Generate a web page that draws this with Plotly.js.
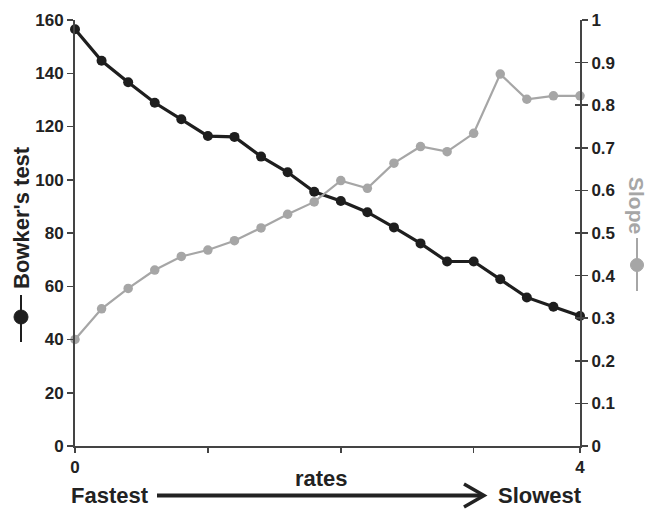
<!DOCTYPE html>
<html><head><meta charset="utf-8">
<script src="https://cdn.plot.ly/plotly-3.0.1.min.js"></script>
<style>html,body{margin:0;padding:0;background:#fff;}</style>
</head><body><div id="chart" style="width:651px;height:510px;"></div>
<script>
// ---- data ----
const pointIndex = [0,1,2,3,4,5,6,7,8,9,10,11,12,13,14,15,16,17,18,19];
const bowkerTest = [156.5,144.7,136.6,128.9,122.7,116.4,116.1,108.7,102.8,95.5,92.0,87.8,82.1,76.1,69.3,69.3,62.6,55.8,52.3,48.8];
const slopeValues = [0.25,0.322,0.37,0.413,0.445,0.46,0.482,0.512,0.544,0.573,0.623,0.605,0.664,0.703,0.691,0.734,0.873,0.814,0.822,0.822];
const xTickVals = [0,5,10,15,19];
const xTickText = ["0","","","","4"];
const leftTitle = "Bowker's test";
const rightTitle = "Slope";
const xTitle = "rates";
const startLabel = "Fastest";
const endLabel = "Slowest";

// ---- style ----
const FONT = "'Liberation Sans Narrow','Arial Narrow','Liberation Sans',Arial,sans-serif";
const BLACK = "#1e1e1e", GRAY = "#a6a6a6", AXIS = "#444444", TXT = "#222222";
const W = 651, H = 510, L = 75, R = 71, T = 20, B = 64;
const PW = W - L - R, PH = H - T - B;
const px = p => (p - L) / PW;
const py = p => (H - B - p) / PH;

const traces = [
  {x: pointIndex, y: bowkerTest, type: 'scatter', mode: 'lines+markers', yaxis: 'y',
   line: {color: BLACK, width: 3.2}, marker: {color: BLACK, size: 10}, cliponaxis: false,
   showlegend: false, hoverinfo: 'skip'},
  {x: pointIndex, y: slopeValues, type: 'scatter', mode: 'lines+markers', yaxis: 'y2',
   line: {color: GRAY, width: 2.2}, marker: {color: GRAY, size: 9.5}, cliponaxis: false,
   showlegend: false, hoverinfo: 'skip'},
  {x: [], y: [], type: 'scatter', yaxis: 'y3', showlegend: false, hoverinfo: 'skip'}
];

const tickFont = {family: FONT, size: 17, color: TXT, weight: 'bold'};
const layout = {
  width: W, height: H, margin: {l: L, r: R, t: T, b: B, pad: 0},
  paper_bgcolor: '#fff', plot_bgcolor: '#fff', showlegend: false,
  xaxis: {range: [0, 19], tickmode: 'array', tickvals: xTickVals, ticktext: xTickText,
    showgrid: false, zeroline: false, showline: true, linecolor: AXIS, linewidth: 2,
    ticks: 'outside', ticklen: 5, tickwidth: 1.5, tickcolor: AXIS, tickfont: tickFont, fixedrange: true},
  yaxis: {range: [0, 160], dtick: 20, showgrid: false, zeroline: false, showline: true,
    linecolor: AXIS, linewidth: 2, ticks: 'outside', ticklen: 6, tickwidth: 1.5, tickcolor: AXIS,
    tickfont: tickFont, fixedrange: true},
  yaxis2: {range: [0, 1], dtick: 0.1, overlaying: 'y', side: 'right', anchor: 'x',
    showgrid: false, zeroline: false, showline: true, linecolor: AXIS, linewidth: 2,
    ticks: 'outside', ticklen: 6, tickwidth: 1.5, tickcolor: AXIS, tickfont: tickFont, fixedrange: true},
  yaxis3: {range: [0, 1], dtick: 0.1, overlaying: 'y', side: 'right', anchor: 'x',
    showgrid: false, zeroline: false, showline: false, showticklabels: false,
    ticks: 'inside', ticklen: 5, tickwidth: 1.5, tickcolor: AXIS, fixedrange: true},
  annotations: [
    {text: leftTitle, xref: 'paper', yref: 'paper', x: px(21), y: py(218), textangle: -90,
     showarrow: false, xanchor: 'center', yanchor: 'middle',
     font: {family: FONT, size: 22, color: TXT, weight: 'bold'}},
    {text: rightTitle, xref: 'paper', yref: 'paper', x: px(637), y: py(205), textangle: 90,
     showarrow: false, xanchor: 'center', yanchor: 'middle',
     font: {family: FONT, size: 21, color: GRAY, weight: 'bold'}},
    {text: xTitle, xref: 'paper', yref: 'paper', x: px(321), y: py(478),
     showarrow: false, xanchor: 'center', yanchor: 'middle',
     font: {family: FONT, size: 22, color: TXT, weight: 'bold'}},
    {text: startLabel, xref: 'paper', yref: 'paper', x: px(110), y: py(495),
     showarrow: false, xanchor: 'center', yanchor: 'middle',
     font: {family: FONT, size: 22, color: TXT, weight: 'bold'}},
    {text: endLabel, xref: 'paper', yref: 'paper', x: px(540), y: py(495),
     showarrow: false, xanchor: 'center', yanchor: 'middle',
     font: {family: FONT, size: 22, color: TXT, weight: 'bold'}}
  ],
  shapes: [
    {type: 'line', xref: 'paper', yref: 'paper', x0: px(157), y0: py(495.5), x1: px(482), y1: py(495.5),
     line: {color: TXT, width: 4}},
    {type: 'path', xref: 'paper', yref: 'paper',
     path: `M ${px(464)} ${py(484)} L ${px(484)} ${py(495.5)} L ${px(464)} ${py(507)}`,
     line: {color: TXT, width: 3.5}, fillcolor: 'rgba(0,0,0,0)'},
    {type: 'line', xref: 'paper', yref: 'paper', x0: px(21), y0: py(295), x1: px(21), y1: py(342),
     line: {color: BLACK, width: 2}},
    {type: 'circle', xref: 'paper', yref: 'paper', x0: px(14), y0: py(310), x1: px(28), y1: py(324),
     line: {color: BLACK, width: 1}, fillcolor: BLACK},
    {type: 'line', xref: 'paper', yref: 'paper', x0: px(637), y0: py(238), x1: px(637), y1: py(291),
     line: {color: GRAY, width: 2}},
    {type: 'circle', xref: 'paper', yref: 'paper', x0: px(630.5), y0: py(258.5), x1: px(643.5), y1: py(271.5),
     line: {color: GRAY, width: 1}, fillcolor: GRAY}
  ]
};

Plotly.newPlot('chart', traces, layout, {staticPlot: true, displayModeBar: false});
</script>
</body></html>
